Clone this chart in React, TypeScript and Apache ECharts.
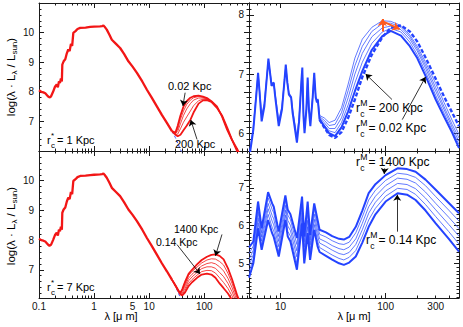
import React, { useEffect, useRef } from "react";
import * as echarts from "echarts";

// ---------- Left panels (λ in μm, value = log(λ·Lλ/Lsun)) ----------
// stellar part shared by all red models
const starLam = [0.1, 0.11, 0.12, 0.13, 0.145, 0.155, 0.165, 0.18, 0.195, 0.21, 0.22, 0.23, 0.24, 0.25, 0.26, 0.265, 0.28, 0.3, 0.32, 0.34, 0.36, 0.38, 0.4, 0.42, 0.46, 0.5, 0.56, 0.7, 0.85, 1.0, 1.28, 1.4, 1.48, 1.55, 1.7, 1.9, 2.1, 2.5, 2.97, 3.5, 4.2, 5.0, 6.0, 7.5, 9.1, 11, 13.8, 17, 21, 25.9];
const starVal = [8.05, 8.0, 7.98, 7.95, 7.85, 7.81, 7.84, 8.0, 8.17, 8.25, 8.15, 8.35, 8.3, 8.45, 8.35, 8.92, 9.03, 9.1, 9.3, 9.43, 9.38, 9.62, 9.55, 9.99, 10.05, 10.12, 10.16, 10.17, 10.19, 10.2, 10.21, 10.22, 10.24, 10.2, 10.1, 9.93, 9.76, 9.62, 9.48, 9.28, 9.03, 8.85, 8.64, 8.35, 8.07, 7.82, 7.51, 7.22, 6.95, 6.67];
// stellar-only (blue dashed) tail
const bareLam = [21, 25.9, 30, 37, 45];
const bareVal = [6.95, 6.67, 6.45, 6.05, 5.75];

// top-left: r*c = 1 Kpc, far-IR for rMc = 0.02 ... 200 Kpc
const lamLT = [25.9, 30, 33, 37, 42, 48, 56, 64, 79, 95, 112, 135, 170, 210, 260, 320, 400, 500, 650];
const lt002 = [6.67, 6.62, 6.85, 7.2, 7.5, 7.68, 7.8, 7.85, 7.87, 7.84, 7.79, 7.68, 7.51, 7.17, 6.72, 6.37, 6.05, 5.7, 5.3];
const ltB = [6.67, 6.6, 6.75, 7.07, 7.35, 7.57, 7.72, 7.8, 7.84, 7.82, 7.78, 7.68, 7.5, 7.18, 6.74, 6.37, 6.03, 5.67, 5.27];
const ltC = [6.67, 6.58, 6.66, 6.92, 7.2, 7.42, 7.6, 7.72, 7.79, 7.79, 7.76, 7.67, 7.49, 7.18, 6.76, 6.37, 6.01, 5.65, 5.25];
const ltD = [6.67, 6.56, 6.57, 6.75, 6.97, 7.15, 7.35, 7.53, 7.7, 7.75, 7.74, 7.67, 7.47, 7.19, 6.78, 6.38, 5.99, 5.62, 5.22];
const lt200 = [6.67, 6.55, 6.5, 6.55, 6.7, 6.85, 7.05, 7.3, 7.6, 7.71, 7.72, 7.66, 7.46, 7.2, 6.8, 6.38, 5.97, 5.6, 5.2];

// bottom-left: r*c = 7 Kpc, far-IR for 0.14 ... 1400 Kpc
const lamLB = [25.9, 30, 34, 37, 40, 45, 52, 60, 74, 90, 112, 135, 160, 190, 225, 270, 320, 400, 500, 650];
const lb1400 = [6.67, 6.47, 6.3, 6.23, 6.35, 6.6, 6.86, 7.0, 7.18, 7.33, 7.44, 7.5, 7.52, 7.47, 7.35, 7.05, 6.68, 6.12, 5.7, 5.2];
const lbB = [6.67, 6.47, 6.3, 6.22, 6.31, 6.53, 6.81, 6.94, 7.09, 7.23, 7.33, 7.37, 7.36, 7.28, 7.16, 6.88, 6.54, 6.02, 5.6, 5.12];
const lbC = [6.67, 6.47, 6.29, 6.21, 6.27, 6.46, 6.72, 6.85, 7.0, 7.13, 7.21, 7.24, 7.2, 7.1, 6.96, 6.71, 6.4, 5.92, 5.5, 5.04];
const lbD = [6.67, 6.47, 6.29, 6.19, 6.22, 6.38, 6.63, 6.76, 6.91, 7.04, 7.1, 7.1, 7.05, 6.91, 6.77, 6.54, 6.26, 5.82, 5.4, 4.96];
const lbE = [6.67, 6.47, 6.28, 6.18, 6.18, 6.31, 6.54, 6.67, 6.82, 6.94, 6.98, 6.97, 6.89, 6.73, 6.57, 6.37, 6.12, 5.72, 5.3, 4.88];
const lb014 = [6.67, 6.47, 6.28, 6.17, 6.14, 6.24, 6.45, 6.58, 6.73, 6.84, 6.87, 6.84, 6.73, 6.54, 6.38, 6.2, 5.98, 5.62, 5.2, 4.8];

// ---------- Top-right: PAH part (shared) + far-IR curves ----------
const lamTRp = [5.0, 5.5, 5.9, 6.1, 6.3, 6.6, 7.0, 7.4, 7.65, 7.9, 8.2, 8.6, 8.9, 9.6, 10.3, 10.9, 11.2, 11.6, 12.0, 12.6, 13.0, 14.3, 15.0, 15.8, 16.1, 16.5, 16.9, 17.6, 18.1, 18.6, 19.2, 20.2, 20.9, 21.6, 22.2, 22.6, 23.5];
const valTRp = [5.55, 6.06, 6.7, 7.02, 6.7, 6.2, 6.45, 6.95, 7.26, 7.05, 6.8, 6.85, 6.6, 6.12, 6.4, 6.9, 7.16, 6.85, 6.65, 6.6, 6.35, 5.84, 6.2, 6.9, 7.11, 6.3, 6.0, 6.4, 6.94, 6.4, 6.12, 6.6, 7.02, 6.6, 6.52, 6.57, 6.23];
const valTRp2 = [5.6, 6.1, 6.72, 7.0, 6.72, 6.3, 6.5, 6.97, 7.22, 7.05, 6.84, 6.86, 6.64, 6.2, 6.45, 6.9, 7.12, 6.86, 6.68, 6.62, 6.4, 5.93, 6.25, 6.88, 7.06, 6.35, 6.08, 6.42, 6.9, 6.44, 6.2, 6.62, 6.98, 6.62, 6.55, 6.58, 6.3];
const lamTRf = [23.5, 26, 29, 33, 38, 44, 51, 60, 74, 93, 112, 140, 170, 200, 240, 300, 360, 430, 500];
const trA = [6.3, 6.26, 6.18, 6.22, 6.43, 6.83, 7.27, 7.59, 7.79, 7.9, 7.89, 7.82, 7.66, 7.47, 7.2, 6.84, 6.52, 6.22, 5.98];
const trB = [6.28, 6.22, 6.13, 6.15, 6.35, 6.72, 7.14, 7.47, 7.72, 7.85, 7.86, 7.79, 7.63, 7.43, 7.15, 6.77, 6.45, 6.15, 5.92];
const trC = [6.26, 6.18, 6.08, 6.08, 6.26, 6.6, 7.0, 7.35, 7.63, 7.78, 7.81, 7.75, 7.59, 7.39, 7.1, 6.71, 6.4, 6.1, 5.86];
const trD = [6.24, 6.14, 6.04, 6.01, 6.18, 6.48, 6.85, 7.2, 7.52, 7.71, 7.77, 7.71, 7.54, 7.33, 7.04, 6.64, 6.34, 6.05, 5.81];
const tr002 = [6.23, 6.12, 6.0, 5.95, 6.1, 6.37, 6.71, 7.05, 7.41, 7.64, 7.73, 7.65, 7.47, 7.27, 6.97, 6.57, 6.28, 6.01, 5.75];
const tr200 = [6.23, 6.1, 5.97, 5.92, 6.02, 6.26, 6.57, 6.95, 7.33, 7.62, 7.78, 7.82, 7.72, 7.55, 7.28, 6.92, 6.62, 6.35, 6.12];

// ---------- Bottom-right: rMc = 0.14 ... 1400 Kpc ----------
const lamBR = [5.0, 5.5, 6.1, 6.6, 7.6, 8.3, 8.6, 9.6, 11.1, 11.7, 12.4, 14.3, 16.0, 16.8, 18.1, 19.1, 20.9, 22.5, 23.5, 27, 31, 36, 40, 45, 52, 60, 69, 80, 100, 130, 160, 193, 240, 300, 400, 500];
const br1400 = [5.42, 5.58, 6.64, 5.93, 6.89, 6.59, 6.5, 5.84, 6.8, 6.42, 6.3, 5.67, 6.77, 5.71, 6.64, 5.75, 6.59, 6.15, 5.89, 5.82, 5.72, 5.65, 5.63, 5.7, 5.97, 6.4, 6.86, 7.1, 7.34, 7.52, 7.5, 7.43, 7.22, 6.95, 6.6, 6.33];
const brE = [5.26, 5.46, 6.5, 5.81, 6.74, 6.43, 6.34, 5.71, 6.67, 6.28, 6.16, 5.5, 6.63, 5.57, 6.47, 5.62, 6.45, 6.01, 5.77, 5.7, 5.6, 5.52, 5.5, 5.56, 5.81, 6.23, 6.68, 6.94, 7.2, 7.39, 7.36, 7.28, 7.06, 6.77, 6.41, 6.12];
const brD = [5.1, 5.35, 6.36, 5.7, 6.59, 6.27, 6.18, 5.58, 6.54, 6.14, 6.01, 5.33, 6.49, 5.43, 6.3, 5.49, 6.31, 5.87, 5.65, 5.57, 5.47, 5.39, 5.36, 5.43, 5.65, 6.06, 6.5, 6.78, 7.06, 7.26, 7.23, 7.13, 6.89, 6.59, 6.22, 5.92];
const brC = [4.94, 5.23, 6.21, 5.59, 6.45, 6.12, 6.02, 5.44, 6.41, 5.99, 5.87, 5.17, 6.34, 5.28, 6.14, 5.35, 6.17, 5.73, 5.54, 5.45, 5.35, 5.26, 5.23, 5.29, 5.5, 5.89, 6.33, 6.62, 6.92, 7.12, 7.09, 6.98, 6.73, 6.42, 6.03, 5.72];
const brB = [4.78, 5.12, 6.07, 5.47, 6.3, 5.96, 5.86, 5.31, 6.28, 5.85, 5.72, 5.0, 6.2, 5.14, 5.97, 5.22, 6.03, 5.59, 5.42, 5.32, 5.22, 5.13, 5.09, 5.16, 5.34, 5.72, 6.15, 6.46, 6.78, 6.99, 6.96, 6.83, 6.56, 6.24, 5.84, 5.51];
const br014 = [4.62, 5.0, 5.93, 5.36, 6.15, 5.8, 5.7, 5.18, 6.15, 5.71, 5.58, 4.83, 6.06, 5.0, 5.8, 5.09, 5.89, 5.45, 5.3, 5.2, 5.1, 5.0, 4.96, 5.02, 5.18, 5.55, 5.97, 6.3, 6.64, 6.86, 6.82, 6.68, 6.4, 6.06, 5.65, 5.31];

// tick labels
const xLabLeft = [0.1, 1, 5, 10, 100];
const xLabRight = [10, 100, 300];
const yLabLT = [7, 8, 9, 10];
const yLabLB = [7, 8, 9, 10];
const yLabTR = [6, 7, 8];
const yLabBR = [5, 6, 7];

// ---------- helpers ----------
const FONT = '"Liberation Sans", Arial, Helvetica, sans-serif';
const AX = "#1a1a1a";
const RED = "#f21616";
const BLUE = "#2443ff";
const BLUE_T = "#3a58ff";

function logTicks(lo: number, hi: number, mults: number[]) {
  const out: number[] = [];
  for (let e = -2; e <= 3; e++)
    for (const m of mults) {
      const v = +(m * Math.pow(10, e)).toPrecision(6);
      if (v >= lo * 0.9999 && v <= hi * 1.0001) out.push(v);
    }
  return out;
}
function linTicks(lo: number, hi: number, step: number) {
  const out: number[] = [];
  for (let k = Math.ceil(lo / step - 1e-9); k * step <= hi + 1e-9; k++) out.push(+(k * step).toFixed(4));
  return out;
}
const zip = (xs: number[], ys: number[]) => xs.map((x, i) => [x, ys[i]]);

type Panel = {
  rect: { left: number; top: number; width: number; height: number };
  xMin: number; xMax: number; xLabels: number[] | null;
  yMin: number; yMax: number; yMinorStep: number; yLabels: number[];
};

function buildOption() {
  const grid: any[] = [];
  const xAxis: any[] = [];
  const yAxis: any[] = [];
  const labelStyle = { color: "#111", fontSize: 10, fontFamily: FONT };

  function addPanel(p: Panel) {
    const gMaj = grid.length;
    grid.push({ ...p.rect, show: false });
    const gMin = grid.length;
    grid.push({ ...p.rect, show: false });
    const xMaj = logTicks(p.xMin, p.xMax, [1]);
    const xMinr = logTicks(p.xMin, p.xMax, [2, 3, 4, 5, 6, 7, 8, 9]);
    const yMaj = linTicks(p.yMin, p.yMax, 1);
    const yMinr = linTicks(p.yMin, p.yMax, p.yMinorStep);
    const xb = { type: "log", logBase: 10, min: p.xMin, max: p.xMax, splitLine: { show: false }, silent: true };
    const yb = { type: "value", min: p.yMin, max: p.yMax, splitLine: { show: false }, silent: true };
    const tick = (vals: number[], len: number) => ({ show: true, inside: true, length: len, customValues: vals, lineStyle: { color: AX, width: 1 } });
    const xi = xAxis.length;
    xAxis.push({
      ...xb, gridIndex: gMaj, position: "bottom",
      axisLine: { show: true, lineStyle: { color: AX, width: 1 } },
      axisTick: tick(xMaj, 5),
      axisLabel: p.xLabels
        ? { show: true, customValues: p.xLabels, margin: 3, ...labelStyle, formatter: (v: number) => String(+(+v).toPrecision(4)) }
        : { show: false },
    });
    xAxis.push({ ...xb, gridIndex: gMaj, position: "top", axisLine: { show: true, lineStyle: { color: AX, width: 1 } }, axisTick: tick(xMaj, 5), axisLabel: { show: false } });
    xAxis.push({ ...xb, gridIndex: gMin, position: "bottom", axisLine: { show: false }, axisTick: tick(xMinr, 2.5), axisLabel: { show: false } });
    xAxis.push({ ...xb, gridIndex: gMin, position: "top", axisLine: { show: false }, axisTick: tick(xMinr, 2.5), axisLabel: { show: false } });
    const yi = yAxis.length;
    yAxis.push({
      ...yb, gridIndex: gMaj, position: "left",
      axisLine: { show: true, lineStyle: { color: AX, width: 1 } },
      axisTick: tick(yMaj, 5),
      axisLabel: { show: true, customValues: p.yLabels, margin: 5, ...labelStyle },
    });
    yAxis.push({ ...yb, gridIndex: gMaj, position: "right", axisLine: { show: true, lineStyle: { color: AX, width: 1 } }, axisTick: tick(yMaj, 5), axisLabel: { show: false } });
    yAxis.push({ ...yb, gridIndex: gMin, position: "left", axisLine: { show: false }, axisTick: tick(yMinr, 2.5), axisLabel: { show: false } });
    yAxis.push({ ...yb, gridIndex: gMin, position: "right", axisLine: { show: false }, axisTick: tick(yMinr, 2.5), axisLabel: { show: false } });
    return { xi, yi };
  }

  const TL = addPanel({ rect: { left: 39, top: 3, width: 210, height: 148 }, xMin: 0.1, xMax: 650, xLabels: null, yMin: 6, yMax: 11, yMinorStep: 0.2, yLabels: yLabLT });
  const TR = addPanel({ rect: { left: 249, top: 3, width: 210, height: 148 }, xMin: 5, xMax: 500, xLabels: null, yMin: 5.7, yMax: 8.2, yMinorStep: 0.1, yLabels: yLabTR });
  const BL = addPanel({ rect: { left: 39, top: 151, width: 210, height: 147 }, xMin: 0.1, xMax: 650, xLabels: xLabLeft, yMin: 6.05, yMax: 11, yMinorStep: 0.2, yLabels: yLabLB });
  const BR = addPanel({ rect: { left: 249, top: 151, width: 210, height: 147 }, xMin: 5, xMax: 500, xLabels: xLabRight, yMin: 4.08, yMax: 7.98, yMinorStep: 0.1, yLabels: yLabBR });

  const line = (P: { xi: number; yi: number }, data: number[][], color: string, width: number, extra: any = {}) => ({
    type: "line", xAxisIndex: P.xi, yAxisIndex: P.yi, data, symbol: "none", showSymbol: false, silent: true, clip: true,
    lineStyle: { color, width, ...(extra.lineStyle || {}) }, z: extra.z ?? 2, markLine: extra.markLine,
  });
  const arrows = (pairs: number[][][], color = "#000", width = 0.8, size = 6) => ({
    silent: true, symbol: ["none", "arrow"], symbolSize: size, label: { show: false },
    lineStyle: { color, width, type: "solid" }, emphasis: { disabled: true },
    data: pairs.map(([a, b]) => [{ coord: a }, { coord: b }]),
  });

  const series: any[] = [
    // top-left
    line(TL, zip(bareLam, bareVal), "#4455ff", 1, { lineStyle: { type: [3, 2] }, z: 1 }),
    line(TL, zip(lamLT, ltB), RED, 0.8),
    line(TL, zip(lamLT, ltC), RED, 0.8),
    line(TL, zip(lamLT, ltD), RED, 0.8),
    line(TL, zip(lamLT, lt002), RED, 1.8, { z: 3 }),
    line(TL, zip(lamLT, lt200), RED, 1.8, { z: 3, markLine: arrows([[[45, 7.97], [41, 7.52]], [[74, 6.39], [57, 7.05]]]) }),
    line(TL, zip(starLam, starVal), RED, 2.3, { z: 4 }),
    // bottom-left
    line(BL, zip(bareLam, bareVal), "#4455ff", 1, { lineStyle: { type: [3, 2] }, z: 1 }),
    line(BL, zip(lamLB, lbB), RED, 0.8),
    line(BL, zip(lamLB, lbC), RED, 0.8),
    line(BL, zip(lamLB, lbD), RED, 0.8),
    line(BL, zip(lamLB, lbE), RED, 0.8),
    line(BL, zip(lamLB, lb1400), RED, 1.8, { z: 3 }),
    line(BL, zip(lamLB, lb014), RED, 1.8, { z: 3, markLine: arrows([[[210, 8.19], [160, 7.47]], [[32, 7.85], [84, 6.86]]]) }),
    line(BL, zip(starLam, starVal), RED, 2.3, { z: 4 }),
    // top-right
    line(TR, zip(lamTRf, trA), BLUE_T, 0.8),
    line(TR, zip(lamTRf, trB), BLUE_T, 0.8),
    line(TR, zip(lamTRf, trC), BLUE_T, 0.8),
    line(TR, zip(lamTRf, trD), BLUE_T, 0.8),
    line(TR, zip(lamTRf, tr002), BLUE, 2, { z: 3, markLine: arrows([[[115, 6.57], [64.5, 7.0]], [[144, 6.23], [240, 6.95]]]) }),
    line(TR, zip(lamTRf, tr200), BLUE, 2.4, { z: 3, lineStyle: { type: [4, 2] }, markLine: arrows([[[93, 7.72], [93, 7.93]], [[94, 7.89], [136, 7.76]]], "#ff5a1e", 2, 7) }),
    line(TR, zip(lamTRp, valTRp2), BLUE_T, 1.2, { z: 3 }),
    line(TR, zip(lamTRp, valTRp), BLUE, 2, { z: 4 }),
    // bottom-right
    line(BR, zip(lamBR, brB), BLUE_T, 0.8),
    line(BR, zip(lamBR, brC), BLUE_T, 0.8),
    line(BR, zip(lamBR, brD), BLUE_T, 0.8),
    line(BR, zip(lamBR, brE), BLUE_T, 0.8),
    line(BR, zip(lamBR, br1400), BLUE, 2, { z: 3 }),
    line(BR, zip(lamBR, br014), BLUE, 2, { z: 3, markLine: arrows([[[98, 7.52], [97, 7.37]], [[129, 5.84], [129, 6.82]]]) }),
  ];

  const txt = (text: string, x: number, y: number, size: number, align = "left") => ({
    type: "text", x, y, silent: true, z: 100,
    style: { text, fontSize: size, fontFamily: FONT, fill: "#000", align, verticalAlign: "middle" },
  });
  const rLabel = (x: number, y: number, sup: string, rest: string, size: number) => [
    txt("r", x, y, size),
    txt(sup, x + size * 0.36, y - size * 0.45, size * 0.72),
    txt("c", x + size * 0.36, y + size * 0.5, size * 0.72),
    txt(rest, x + size * 0.36 + (sup === "M" ? size * 0.68 : size * 0.55), y, size),
  ];
  const yTitle = (y: number) => ({
    type: "text", x: 11, y, rotation: Math.PI / 2, silent: true, z: 100,
    style: {
      text: "{n|log(λ · L}{s|λ}{n| / L}{s|sun}{n|)}",
      rich: {
        n: { fontSize: 11.5, fontFamily: FONT, lineHeight: 15, fill: "#000" },
        s: { fontSize: 8, fontFamily: FONT, lineHeight: 7, verticalAlign: "bottom", fill: "#000" },
      },
      align: "center", verticalAlign: "middle", fill: "#000",
    },
  });

  const graphic: any[] = [
    yTitle(77),
    yTitle(226),
    txt("λ [μ m]", 121, 316, 11, "center"),
    txt("λ [μ m]", 354, 316, 11, "center"),
    txt("0.02 Kpc", 168, 86, 11),
    txt("200 Kpc", 175, 144, 11),
    ...rLabel(47, 140, "*", "= 1 Kpc", 11),
    txt("1400 Kpc", 174, 228.5, 10.5),
    txt("0.14 Kpc", 156, 241.5, 10.5),
    ...rLabel(47, 287, "*", "= 7 Kpc", 11),
    ...rLabel(356, 108, "M", "= 200 Kpc", 12),
    ...rLabel(356, 128, "M", "= 0.02 Kpc", 12),
    ...rLabel(356, 162, "M", "= 1400 Kpc", 12),
    ...rLabel(366, 240, "M", "= 0.14 Kpc", 12),
  ];

  return { animation: false, backgroundColor: "#fff", grid, xAxis, yAxis, series, graphic };
}

export default function App() {
  const ref = useRef<HTMLDivElement>(null);
  useEffect(() => {
    const chart = echarts.init(ref.current!, null, { renderer: "svg" });
    chart.setOption(buildOption() as any);
    return () => chart.dispose();
  }, []);
  return <div ref={ref} style={{ position: "absolute", left: 0, top: 0, width: 463, height: 327 }} />;
}
